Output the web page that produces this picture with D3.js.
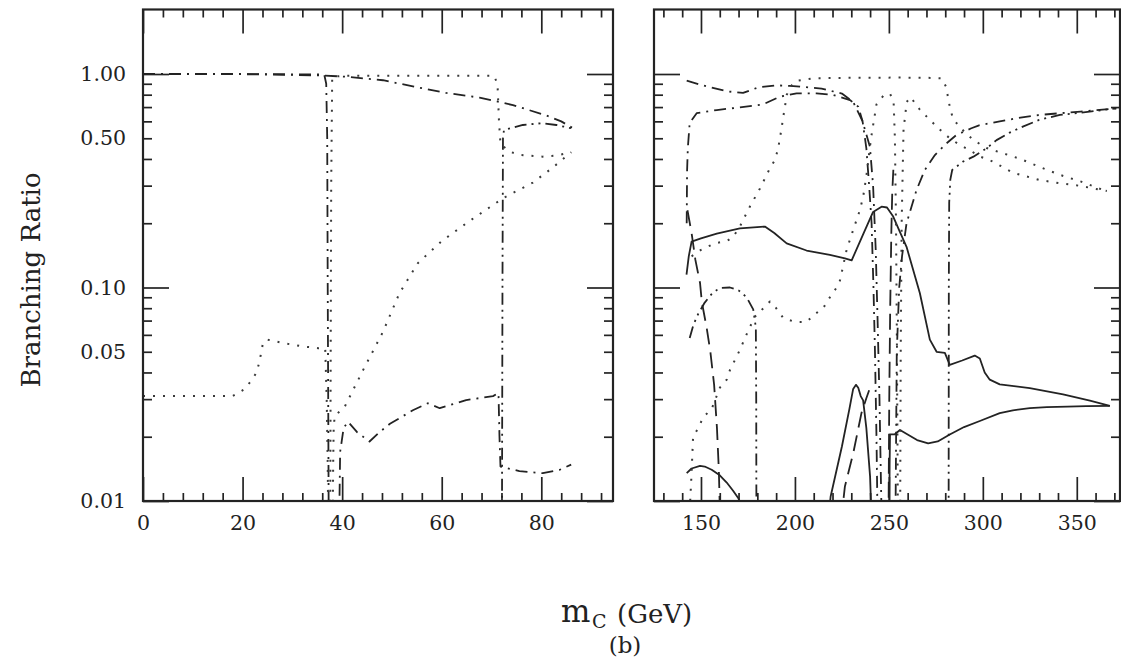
<!DOCTYPE html>
<html>
<head>
<meta charset="utf-8">
<script src="https://cdn.jsdelivr.net/npm/d3@7"></script>
<style>
  body { margin: 0; background: #fff; }
  svg { display: block; }
  text { font-family: "DejaVu Serif", "Liberation Serif", serif; fill: #222; }
</style>
</head>
<body>
<svg id="chart" width="1121" height="662"></svg>
<script>
// ---------------- tick values ----------------
const yMajorTicks = [0.01, 0.1, 1];
const yMinorTicks = [0.02, 0.03, 0.04, 0.05, 0.06, 0.07, 0.08, 0.09,
                     0.2, 0.3, 0.4, 0.5, 0.6, 0.7, 0.8, 0.9];
const yTickLabels = [0.01, 0.05, 0.1, 0.5, 1];

const leftMajorTicks = [0, 20, 40, 60, 80];
const leftMinorTicks = [4, 8, 12, 16, 24, 28, 32, 36, 44, 48, 52, 56, 64, 68, 72, 76, 84, 88, 92];
const rightMajorTicks = [150, 200, 250, 300, 350];
const rightMinorTicks = [130, 140, 160, 170, 180, 190, 210, 220, 230, 240, 260, 270,
                         280, 290, 310, 320, 330, 340, 360, 370];

// ---------------- branching ratios, light mass range [m (GeV), BR] ----------------
const lowTopDashDot = [[0,1.0],[20,1.0],[36.4,0.995],[36.8,0.9],[37.0,0.5],[37.1,0.1],[37.2,0.03],[37.3,0.008]];
const lowFallDashDot = [[0,1.0],[20,0.998],[30,0.99],[36,0.985],[41,0.97],[48.2,0.935],[54.2,0.875],
  [60.9,0.815],[67.6,0.775],[74.3,0.715],[81,0.64],[84,0.6],[86.5,0.555]];
const lowFlatDotted = [[37.6,0.008],[37.7,0.05],[37.8,0.3],[38,0.97],[40,0.98],[55,0.98],[70.5,0.98],
  [71.2,0.9],[71.5,0.6],[71.8,0.47],[73.6,0.433],[75.6,0.418],[80.3,0.41],[83,0.415],[86,0.43]];
const lowSmallDotted = [[0,0.031],[10,0.031],[18,0.031],[20,0.033],[21.8,0.0366],[22.8,0.04],[23.4,0.045],
  [24.1,0.055],[25,0.057],[28,0.055],[32,0.053],[35.2,0.052],[36.6,0.052],[36.9,0.03],[37.1,0.015],[37.2,0.008]];
const lowRiseDotted = [[38.1,0.008],[38.2,0.015],[38.3,0.022],[38.5,0.025],[40.5,0.0276],[44.2,0.041],
  [48.2,0.062],[51.5,0.094],[55.2,0.13],[60,0.165],[65.6,0.205],[72.3,0.262],[78.3,0.31],[82,0.36],[86,0.43]];
const lowMidDashDot = [[39.4,0.008],[39.6,0.017],[40.3,0.022],[41.2,0.0235],[43,0.021],[45.5,0.019],
  [47.5,0.021],[49.6,0.023],[54.2,0.0266],[57.2,0.0287],[59.6,0.0272],[64.9,0.0297],[70.3,0.031],
  [71.4,0.032],[71.6,0.02],[71.8,0.0145],[75.6,0.0138],[80.3,0.0135],[83.7,0.014],[86,0.0148]];
const lowJumpDashDotDot = [[72.1,0.008],[72.2,0.1],[72.3,0.5],[72.5,0.547],[76.3,0.577],[80,0.588],
  [83,0.577],[86,0.557]];

// ---------------- branching ratios, heavy mass range [m (GeV), BR] ----------------
const highA = [[142.4,0.93],[150,0.89],[163.7,0.83],[172.4,0.815],[180.4,0.865],[190,0.885],[197.3,0.88],
  [214.2,0.855],[225,0.81],[231,0.74],[236,0.6],[239.9,0.457],[241.6,0.3],[243,0.15],[244,0.07],
  [245,0.03],[245.8,0.012],[246.2,0.008]];
const highB = [[142.4,0.2],[142.6,0.35],[143,0.45],[144,0.59],[147.7,0.655],[158.4,0.678],[170.7,0.698],
  [183.1,0.721],[192,0.783],[200.9,0.812],[211.5,0.812],[220.4,0.797],[229.3,0.755],[233.7,0.703],
  [236,0.6],[238,0.45],[239.5,0.3],[240.8,0.2],[241.8,0.1],[242.6,0.05],[243.4,0.02],[244,0.008]];
const highC = [[142.8,0.23],[145,0.18],[147,0.135],[149.5,0.105],[150.5,0.085],[153,0.065],[155,0.05],
  [157,0.035],[158.5,0.022],[159.5,0.014],[160.2,0.008]];
const highD = [[142.3,0.115],[143.5,0.14],[145,0.164],[150,0.17],[158.4,0.179],[170.7,0.189],[184,0.193],
  [189,0.18],[195.6,0.161],[206.2,0.149],[218.6,0.142],[226.6,0.137],[230.2,0.134],[236,0.175],
  [241.6,0.226],[246.1,0.239],[249,0.237],[252.3,0.215],[255.5,0.185],[259.4,0.155],[266.5,0.094],
  [271.8,0.057],[275.4,0.05],[279.8,0.0494],[282.4,0.0434],[289,0.0455],[295.7,0.048],[298.4,0.0465],
  [301,0.04],[303.7,0.037],[309,0.0352],[325,0.0338],[342.7,0.0316],[357,0.0295],[367.6,0.0279]];
const highE = [[250.2,0.008],[250.4,0.015],[250.6,0.0205],[253,0.0205],[255.9,0.0215],[260,0.0205],
  [265,0.0193],[270.9,0.0186],[276,0.019],[282.4,0.0205],[290,0.0222],[298.4,0.0237],[309,0.0258],
  [316,0.0266],[325,0.0272],[334,0.0275],[345,0.0277],[355,0.0278],[367.6,0.0279]];
const highF = [[217.7,0.008],[219,0.0105],[225,0.018],[229,0.027],[231,0.0335],[232.5,0.035],
  [233.7,0.0339],[235,0.031],[236.3,0.0296],[238,0.022],[240,0.013],[240.8,0.008]];
const highG = [[224.5,0.008],[226.6,0.0117],[231,0.0167],[235.4,0.0258],[238,0.0303],[239.5,0.033]];
const highH = [[142.4,0.0135],[145,0.0142],[149.5,0.0146],[152,0.0145],[155.7,0.014],[160,0.0132],
  [163.7,0.0122],[167,0.0112],[169.9,0.0103],[171,0.0098]];
const highJ = [[144,0.058],[146,0.067],[148.6,0.0755],[152,0.085],[156,0.094],[160.1,0.0996],[165.4,0.1],
  [170,0.097],[174.3,0.09],[177.8,0.079],[179.2,0.065],[179.4,0.03],[179.5,0.008]];
const highDot1 = [[145,0.14],[150,0.15],[157.4,0.161],[163.7,0.165],[167,0.172],[170.7,0.193],[176,0.239],
  [181.4,0.291],[186.7,0.362],[189.4,0.396],[191.1,0.449],[192.9,0.557],[193.8,0.631],[194.7,0.703],
  [195.6,0.797],[198,0.88],[200.9,0.93],[210,0.955],[230,0.96],[255,0.962],[270,0.96],[278,0.955],
  [280.5,0.87],[282,0.73],[284,0.62],[288,0.56],[295,0.49],[302,0.45],[309,0.43],[320,0.4],
  [330,0.368],[341,0.337],[352,0.314],[366,0.282]];
const highDot2 = [[144,0.009],[144.5,0.011],[145,0.0135],[145.8,0.02],[148.6,0.022],[151.2,0.0247],
  [155.7,0.027],[160.1,0.034],[163.7,0.037],[165.4,0.041],[170.7,0.051],[175.2,0.063],[178.7,0.073],
  [181.4,0.077],[186.7,0.086],[190,0.08],[193.8,0.072],[200,0.069],[206.2,0.069],[210.6,0.075],
  [215,0.08],[218.6,0.09],[222.2,0.1],[224,0.108],[227.5,0.15],[231,0.186],[234.6,0.231],
  [236.3,0.266],[238,0.331],[240.5,0.5],[243.4,0.72],[247,0.79],[250.5,0.81],[252.5,0.75],
  [253.2,0.5],[253.8,0.2],[254.3,0.05],[254.8,0.008]];
const highDot3 = [[256,0.008],[256.3,0.05],[256.8,0.2],[257.8,0.55],[259.5,0.74],[261.5,0.78],
  [266.5,0.68],[271.8,0.61],[277,0.55],[282.4,0.5],[287.8,0.465],[293,0.44],[298.4,0.411],
  [305,0.39],[316,0.345],[330,0.319],[341,0.308],[352,0.299],[366,0.283]];
const highQ1 = [[253.5,0.008],[254.2,0.05],[255.5,0.1],[257,0.14],[259.4,0.2],[264.7,0.286],
  [269.1,0.355],[274.5,0.417],[280.6,0.473],[285.9,0.518],[293.9,0.557],[298,0.575],[309,0.6],
  [320,0.625],[330,0.643],[341,0.655],[352,0.667],[371,0.69]];
const highQ2 = [[281.8,0.008],[281.9,0.1],[282.1,0.25],[282.7,0.32],[283.7,0.355],[289.5,0.389],
  [295,0.41],[302,0.449],[307.3,0.49],[314,0.53],[321.3,0.567],[330,0.61],[341,0.643],
  [351.6,0.658],[371,0.69]];
const highR = [[249.8,0.008],[250.2,0.03],[250.7,0.08],[251.3,0.18],[251.8,0.28],[252.4,0.36]];

const leftCurves = [
  [lowTopDashDot, "dashdot"], [lowFallDashDot, "dashdot"], [lowFlatDotted, "dotted"],
  [lowSmallDotted, "dotted"], [lowRiseDotted, "dotted"], [lowMidDashDot, "dashdot"],
  [lowJumpDashDotDot, "dashdotdot"]
];
const rightCurves = [
  [highA, "dashdot"], [highB, "dashdot"], [highC, "dashed"], [highD, "solid"], [highE, "solid"],
  [highF, "solid"], [highG, "dashed"], [highH, "solid"], [highJ, "dashdotdot"],
  [highDot1, "dotted"], [highDot2, "dotted"], [highDot3, "dotted"],
  [highQ1, "dashdot"], [highQ2, "dashdotdot"], [highR, "dashed"]
];

const dashPatterns = {
  solid: null, dashed: "16,8", dotted: "2,8", dashdot: "12,6,2,6", dashdotdot: "12,5,2,5,2,5"
};

// ---------------- layout ----------------
const svg = d3.select("#chart");
const ink = "#232323";
const yTop = 9.5, yBot = 501;
const y = d3.scaleLog().domain([0.01, 2.005]).range([yBot, yTop]);

const xLeft = d3.scaleLinear().domain([0, 94.4]).range([143, 613]);
const xRight = d3.scaleLinear().domain([125, 373]).range([654, 1120]);

function styleTicks(g) {
  g.select(".domain").remove();
  g.selectAll(".tick line").attr("stroke", ink).attr("stroke-width", 1.7);
  g.selectAll(".tick text").remove();
}

function drawPanel(id, x, major, minor, curves, withYLabels) {
  const g = svg.append("g").attr("class", id);
  const [x0, x1] = x.range();

  g.append("clipPath").attr("id", "clip-" + id)
    .append("rect").attr("x", x0).attr("y", yTop).attr("width", x1 - x0).attr("height", yBot - yTop);

  const line = d3.line().x(d => x(d[0])).y(d => y(d[1]));
  const plot = g.append("g").attr("clip-path", `url(#clip-${id})`);
  curves.forEach(([pts, style]) => {
    plot.append("path")
      .attr("d", line(pts))
      .attr("fill", "none")
      .attr("stroke", style === "dotted" ? "#3a3a3a" : ink)
      .attr("stroke-width", style === "dotted" ? 2 : 1.8)
      .attr("stroke-linejoin", "round")
      .attr("stroke-dasharray", dashPatterns[style]);
  });

  // inward ticks on all four sides
  const axes = [
    [d3.axisBottom(x), `translate(0,${yBot})`, major, minor, 24, 8],
    [d3.axisTop(x), `translate(0,${yTop})`, major, minor, 24, 8],
    [d3.axisLeft(y), `translate(${x0},0)`, yMajorTicks, yMinorTicks, 26, 9],
    [d3.axisRight(y), `translate(${x1},0)`, yMajorTicks, yMinorTicks, 26, 9]
  ];
  axes.forEach(([axis, tr, maj, min, lenMaj, lenMin]) => {
    g.append("g").attr("transform", tr)
      .call(axis.tickValues(maj).tickSize(-lenMaj).tickFormat(""))
      .call(styleTicks);
    g.append("g").attr("transform", tr)
      .call(axis.tickValues(min).tickSize(-lenMin).tickFormat(""))
      .call(styleTicks);
  });

  g.append("rect")
    .attr("x", x0).attr("y", yTop).attr("width", x1 - x0).attr("height", yBot - yTop)
    .attr("fill", "none").attr("stroke", ink).attr("stroke-width", 2.2);

  // numeric labels
  const xl = g.append("g").attr("transform", `translate(0,${yBot})`)
    .call(d3.axisBottom(x).tickValues(major).tickSize(0).tickPadding(14).tickFormat(d3.format("d")));
  xl.select(".domain").remove();
  xl.selectAll("text").attr("font-size", 20.5).attr("fill", "#222");
  xl.attr("font-family", null);

  if (withYLabels) {
    const yl = g.append("g").attr("transform", `translate(${x0},0)`)
      .call(d3.axisLeft(y).tickValues(yTickLabels).tickSize(0).tickPadding(17).tickFormat(d3.format(".2f")));
    yl.select(".domain").remove();
    yl.selectAll("text").attr("font-size", 20.5).attr("fill", "#222");
    yl.attr("font-family", null);
  }
}

drawPanel("low", xLeft, leftMajorTicks, leftMinorTicks, leftCurves, true);
drawPanel("high", xRight, rightMajorTicks, rightMinorTicks, rightCurves, false);

// axis titles
svg.append("text")
  .attr("transform", "translate(40,280) rotate(-90)")
  .attr("text-anchor", "middle")
  .attr("font-size", 26)
  .text("Branching Ratio");

svg.append("text").attr("x", 561).attr("y", 622).attr("font-size", 31).text("m");
svg.append("text").attr("x", 592).attr("y", 628).attr("font-size", 19).text("C");
svg.append("text").attr("x", 617).attr("y", 623).attr("font-size", 26).text("(GeV)");

svg.append("text")
  .attr("x", 625).attr("y", 653)
  .attr("text-anchor", "middle")
  .attr("font-size", 23)
  .text("(b)");
</script>
</body>
</html>
